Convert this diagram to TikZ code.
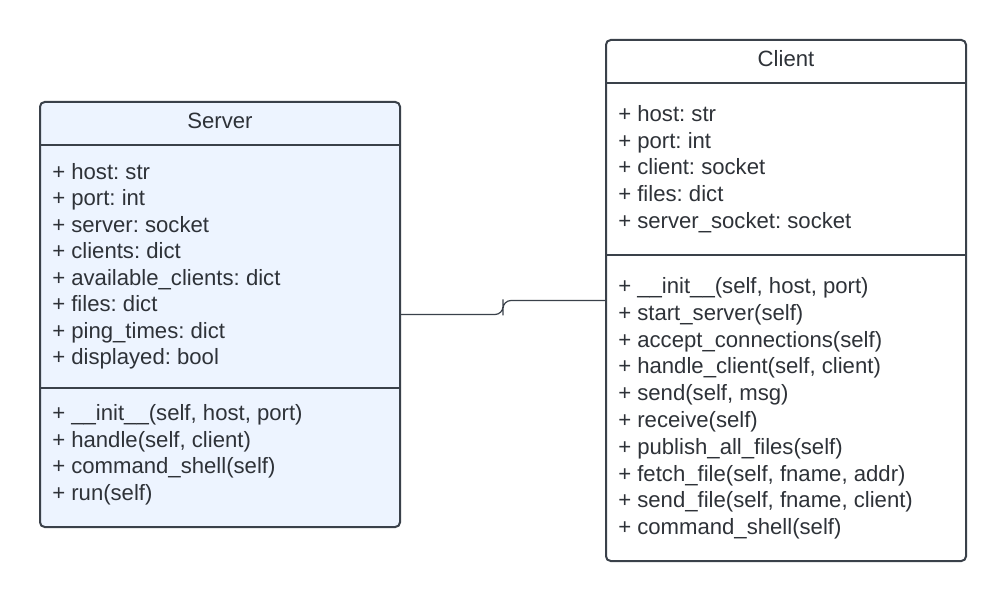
\documentclass[tikz,border=0pt]{standalone}
\usepackage{fontspec}
\setmainfont{Liberation Sans}
\usetikzlibrary{calc}
\definecolor{linec}{HTML}{3A414A}
\definecolor{textc}{HTML}{2E3238}
\definecolor{srvfill}{HTML}{EDF4FF}
\tikzset{
  umlbox/.style={draw=linec, line width=1.5pt, rounded corners=3.5pt, inner sep=0pt, outer sep=0pt},
  sepline/.style={draw=linec, line width=1.5pt},
  item/.style={text=textc, inner sep=0pt, anchor=base west, font=\fontsize{16.6pt}{20pt}\selectfont\frenchspacing},
  title/.style={text=textc, inner sep=0pt, anchor=base, font=\fontsize{16.6pt}{20pt}\selectfont},
  assoc/.style={draw=linec, line width=0.9pt, rounded corners=6pt}
}
\begin{document}
\frenchspacing
\begin{tikzpicture}[x=0.75pt,y=-0.75pt]
\useasboundingbox (0,0) rectangle (1007,602);
% Server box
\node[umlbox, fill=srvfill, minimum width=270pt, minimum height=318.75pt] (srv) at (220,314.5) {};
\draw[sepline] (40,145) -- (400,145);
\draw[sepline] (40,388) -- (400,388);
\node[title] (srvt) at (220,129) {Server};
\foreach \t [count=\i] in {+ host: str, + port: int, + server: socket, + clients: dict, + available\_clients: dict, + files: dict, + ping\_times: dict, + displayed: bool}
  \node[item] (sa\i) at (52,{179.5+26.45*(\i-1)}) {\t};
\foreach \t [count=\i] in {{+ \_\_init\_\_(self, host, port)}, {+ handle(self, client)}, + command\_shell(self), + run(self)}
  \node[item] (sm\i) at (52,{420.5+26.6*(\i-1)}) {\t};
% Client box
\node[umlbox, fill=white, minimum width=270pt, minimum height=390.75pt] (cli) at (786,300.5) {};
\draw[sepline] (606,83) -- (966,83);
\draw[sepline] (606,255) -- (966,255);
\node[title] (clit) at (786,67) {Client};
\foreach \t [count=\i] in {+ host: str, + port: int, + client: socket, + files: dict, + server\_socket: socket}
  \node[item] (ca\i) at (618,{121.5+26.75*(\i-1)}) {\t};
\foreach \t [count=\i] in {{+ \_\_init\_\_(self, host, port)}, + start\_server(self), + accept\_connections(self), {+ handle\_client(self, client)}, {+ send(self, msg)}, + receive(self), + publish\_all\_files(self), {+ fetch\_file(self, fname, addr)}, {+ send\_file(self, fname, client)}, + command\_shell(self)}
  \node[item] (cm\i) at (618,{293.5+26.8*(\i-1)}) {\t};
% Association
\coordinate (mid) at ($(srv.east)!0.5!(cli.west)$);
\draw[assoc] (srv.east) -| (mid) |- (cli.west);
\end{tikzpicture}
\end{document}
